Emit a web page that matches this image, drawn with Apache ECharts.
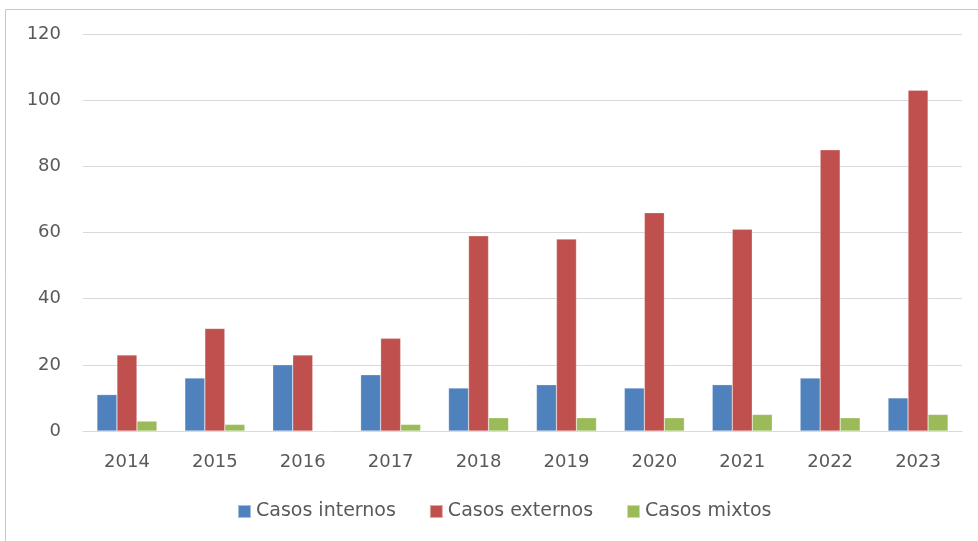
<!DOCTYPE html>
<html><head><meta charset="utf-8">
<script src="https://cdn.jsdelivr.net/npm/echarts@6/dist/echarts.min.js"></script>
<style>html,body{margin:0;padding:0;background:#fff}#c{width:978px;height:541px}</style>
</head><body><div id="c"></div>
<script>
const categories = ['2014','2015','2016','2017','2018','2019','2020','2021','2022','2023'];
const casosInternos = [11,16,20,17,13,14,13,14,16,10];
const casosExternos = [23,31,23,28,59,58,66,61,85,103];
const casosMixtos = [3,2,0,2,4,4,4,5,4,5];
const yTicks = [0,20,40,60,80,100,120];
const seriesNames = ['Casos internos','Casos externos','Casos mixtos'];

const chart = echarts.init(document.getElementById('c'), null, {renderer:'canvas'});
const txt = '#595959';
const font = 'DejaVu Sans, sans-serif';
function bar(name, data, color){
  return {name, type:'bar', data, barWidth:20, barGap:'0%',
    itemStyle:{color, borderColor:'rgba(255,255,255,0.5)', borderWidth:0.5}};
}
chart.setOption({
  animation:false,
  graphic:[{type:'rect', shape:{x:5.5,y:9.5,width:1200,height:800},
    style:{fill:'none', stroke:'#c8c8c8', lineWidth:1}, silent:true}],
  grid:{left:83, right:16, top:34, bottom:110, containLabel:false},
  legend:{left:232, top:497, itemWidth:13, itemHeight:13, itemGap:33,
    icon:'rect', textStyle:{color:txt, fontSize:19, fontFamily:font},
    data:seriesNames},
  xAxis:{type:'category', data:categories,
    axisLine:{lineStyle:{color:'#d9d9d9'}}, axisTick:{show:false},
    axisLabel:{color:txt, fontSize:18, fontFamily:font, margin:22}},
  yAxis:{type:'value', min:yTicks[0], max:yTicks[yTicks.length-1], interval:20,
    axisLine:{show:false}, axisTick:{show:false},
    splitLine:{lineStyle:{color:'#d9d9d9'}},
    axisLabel:{color:txt, fontSize:18, fontFamily:font, margin:22}},
  series:[
    bar(seriesNames[0], casosInternos, '#4F81BD'),
    bar(seriesNames[1], casosExternos, '#C0504D'),
    bar(seriesNames[2], casosMixtos, '#9BBB59')
  ]
});
</script></body></html>
